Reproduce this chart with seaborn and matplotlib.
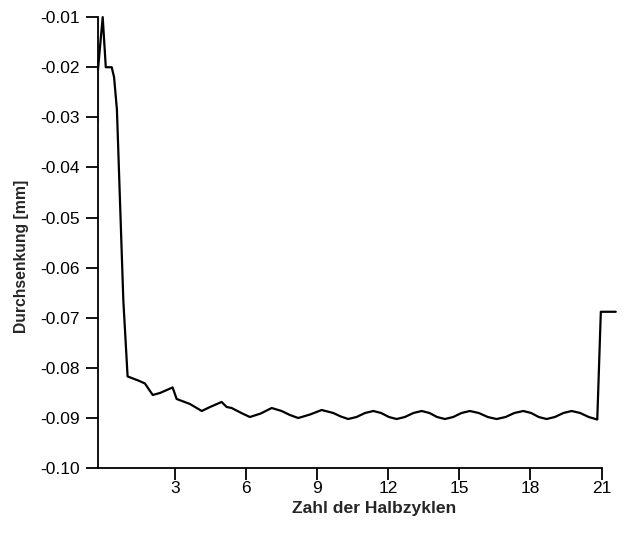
import pandas as pd
import matplotlib.pyplot as plt
import seaborn as sns

# --- Data (half-cycles vs. deflection) ---
halbzyklen = [
    -0.25, -0.25, -0.05, 0.08, 0.33, 0.43, 0.55, 0.82, 1.00,
    1.44, 1.73, 2.06, 2.37, 2.90, 3.07, 3.63, 4.13, 4.48, 4.97, 5.18, 5.39,
    5.80, 6.16, 6.62, 7.08, 7.50, 7.85, 8.20, 8.70, 9.19, 9.68, 10.00, 10.31,
    10.66, 11.02, 11.37, 11.70, 12.03, 12.35, 12.70, 13.06, 13.41, 13.74, 14.06, 14.39,
    14.74, 15.09, 15.44, 15.82, 16.20, 16.57, 16.95, 17.32, 17.70, 18.03, 18.35, 18.68,
    19.03, 19.39, 19.74, 20.10, 20.46, 20.82, 20.97, 21.60,
]
durchsenkung = [
    -0.0310, -0.0100, -0.0100, -0.0200, -0.0200, -0.0220, -0.0285, -0.0665, -0.0817,
    -0.0825, -0.0831, -0.0854, -0.0850, -0.0839, -0.0862, -0.0872, -0.0886, -0.0878,
    -0.0868, -0.0878, -0.0880,
    -0.0890, -0.0898, -0.0891, -0.0880, -0.0886, -0.0894, -0.0900, -0.0893, -0.0884,
    -0.0890, -0.0897, -0.0902,
    -0.0898, -0.0890, -0.0886, -0.0890, -0.0898, -0.0902, -0.0898, -0.0890, -0.0886,
    -0.0890, -0.0898, -0.0902,
    -0.0898, -0.0890, -0.0886, -0.0890, -0.0898, -0.0902, -0.0898, -0.0890, -0.0886,
    -0.0890, -0.0898, -0.0902,
    -0.0898, -0.0890, -0.0886, -0.0890, -0.0898, -0.0903, -0.0688, -0.0688,
]
x_ticks = [3, 6, 9, 12, 15, 18, 21]
y_ticks = [-0.01, -0.02, -0.03, -0.04, -0.05, -0.06, -0.07, -0.08, -0.09, -0.10]

df = pd.DataFrame({"Halbzyklen": halbzyklen, "Durchsenkung": durchsenkung})

# --- Style ---
sns.set_style("ticks")
plt.rcParams["font.family"] = ["Liberation Sans", "DejaVu Sans"]
plt.rcParams["axes.unicode_minus"] = False
plt.rcParams["xtick.major.size"] = 8.5
plt.rcParams["ytick.major.size"] = 9
plt.rcParams["xtick.major.width"] = 1.3
plt.rcParams["ytick.major.width"] = 1.3
plt.rcParams["xtick.color"] = "black"
plt.rcParams["ytick.color"] = "black"

fig = plt.figure(figsize=(6.24, 5.35), dpi=100)
ax = fig.add_axes([0.157, 0.125, 0.807, 0.843])

sns.lineplot(data=df, x="Halbzyklen", y="Durchsenkung", sort=False,
             color="black", linewidth=1.6, ax=ax, clip_on=False)

ax.set_xlim(-0.25, 21)
ax.set_ylim(-0.10, -0.01)
ax.set_xticks(x_ticks)
ax.set_yticks(y_ticks)
ax.set_yticklabels([f"{v:.2f}" for v in y_ticks])
ax.tick_params(axis="both", labelsize=12.5, labelcolor="black")
ax.tick_params(axis="x", pad=0.5)
ax.tick_params(axis="y", pad=4)

for side in ["top", "right"]:
    ax.spines[side].set_visible(False)
for side in ["left", "bottom"]:
    ax.spines[side].set_color("black")
    ax.spines[side].set_linewidth(1.3)

ax.set_xlabel("Zahl der Halbzyklen", fontsize=12.6, fontweight="bold")
ax.set_ylabel("Durchsenkung [mm]", fontsize=11.3, fontweight="bold")
ax.xaxis.set_label_coords(0.549, -0.072)
ax.yaxis.set_label_coords(-0.137, 0.47)

fig.savefig("out.png", dpi=100)
